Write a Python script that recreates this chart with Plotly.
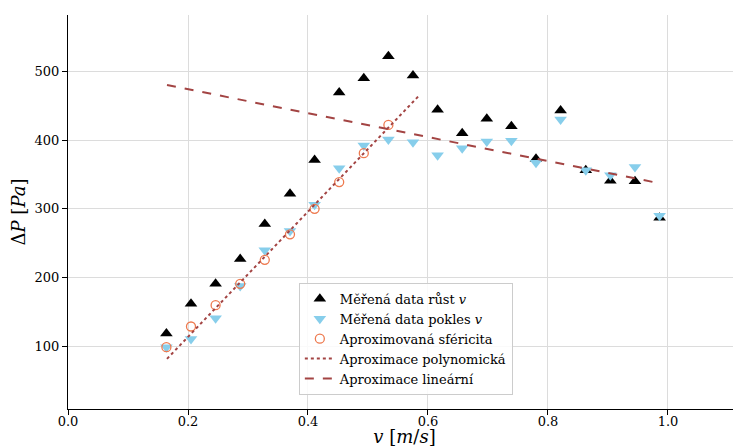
import plotly.graph_objects as go

# velocities [m/s]
v = [0.164, 0.205, 0.246, 0.287, 0.328, 0.370, 0.411, 0.452, 0.493, 0.534,
     0.575, 0.616, 0.657, 0.698, 0.739, 0.780, 0.821, 0.863, 0.904, 0.945, 0.986]
# measured pressure drop, rising velocity
dp_rust = [119, 162, 191, 227, 278, 322, 371, 469, 490, 522,
           494, 444, 410, 431, 420, 373, 443, 356, 341, 340, 287]
# measured pressure drop, falling velocity
dp_pokles = [99, 111, 141, 188, 240, 268, 306, 359, 392, 401,
             397, 378, 388, 398, 399, 367, 430, 356, 349, 361, 290]
# approximated sphericity (first 10 velocities)
v_sfer = v[:10]
dp_sfer = [99, 129, 160, 191, 226, 263, 300, 339, 381, 422]
# polynomial approximation
v_poly = [0.165, 0.288, 0.420, 0.5855]
dp_poly = [82, 194, 314, 465]
# linear approximation
v_lin = [0.165, 0.987]
dp_lin = [480, 337]

x_ticks = [0.0, 0.2, 0.4, 0.6, 0.8, 1.0]
x_ticktext = ["0.0", "0.2", "0.4", "0.6", "0.8", "1.0"]
y_ticks = [100, 200, 300, 400, 500]

FONT = "DejaVu Serif"
LINE_COL = "#A34443"

fig = go.Figure()
fig.add_trace(go.Scatter(
    x=v, y=dp_rust, mode="markers", name="Měřená data růst <i>v</i>",
    marker=dict(symbol="triangle-up", size=11, color="black", line=dict(width=0))))
fig.add_trace(go.Scatter(
    x=v, y=dp_pokles, mode="markers", name="Měřená data pokles <i>v</i>",
    marker=dict(symbol="triangle-down", size=11, color="#87CEEB", line=dict(width=0))))
fig.add_trace(go.Scatter(
    x=v_sfer, y=dp_sfer, mode="markers", name="Aproximovaná sféricita",
    marker=dict(symbol="circle-open", size=9, color="#EE7A4F", line=dict(width=1.3))))
fig.add_trace(go.Scatter(
    x=v_poly, y=dp_poly, mode="lines", name="Aproximace polynomická",
    line=dict(color=LINE_COL, width=2, dash="dot")))
fig.add_trace(go.Scatter(
    x=v_lin, y=dp_lin, mode="lines", name="Aproximace lineární",
    line=dict(color=LINE_COL, width=2, dash="dash")))

# page body adds an 8 px offset; figure sized to fill the remaining window
fig.update_layout(
    width=733, height=439,
    margin=dict(l=60, r=0, t=7, b=38, autoexpand=False),
    plot_bgcolor="white", paper_bgcolor="white",
    font=dict(family=FONT, size=13, color="black"),
    legend=dict(x=0.343, y=0.32, xanchor="left", yanchor="top",
                bgcolor="rgba(255,255,255,0.85)", bordercolor="#cccccc", borderwidth=1,
                font=dict(family=FONT, size=13), tracegroupgap=0),
    xaxis=dict(range=[0, 1.1217], tickvals=x_ticks, ticktext=x_ticktext,
               showline=True, linecolor="black", linewidth=1, automargin=False,
               ticks="outside", ticklen=5, tickcolor="black", ticklabelstandoff=-5,
               showgrid=True, gridcolor="#dcdcdc", gridwidth=1, zeroline=False,
               title=dict(text="<i>v</i> [<i>m</i>/<i>s</i>]", font=dict(size=18), standoff=5)),
    yaxis=dict(range=[9.1, 581.8], tickvals=y_ticks,
               showline=True, linecolor="black", linewidth=1, automargin=False,
               ticks="outside", ticklen=5, tickcolor="black",
               showgrid=True, gridcolor="#dcdcdc", gridwidth=1, zeroline=False,
               title=dict(text="Δ<i>P</i> [<i>Pa</i>]", font=dict(size=18), standoff=8)),
)

fig.write_html("out.html")
